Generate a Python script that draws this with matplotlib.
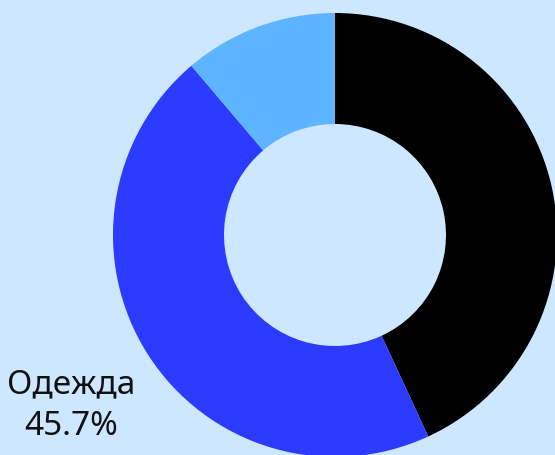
import numpy as np
import matplotlib.pyplot as plt

plt.rcParams['font.family'] = ['Noto Sans', 'DejaVu Sans']

# Segments, clockwise from 12 o'clock
categories = ['', 'Одежда', '']
shares = [43.1, 45.7, 11.2]
colors = ['#000000', '#2B3BFF', '#5DB5FF']
bg = '#CCE7FF'

fig = plt.figure(figsize=(5.55, 4.55), dpi=100, facecolor=bg)
ax = fig.add_axes([0, 0, 1, 1])
ax.set_facecolor(bg)

ax.pie(shares, colors=colors, startangle=90, counterclock=False,
       radius=1.0, wedgeprops=dict(width=0.5, linewidth=0))

# label for the visible slice only (others fall outside the frame)
total = sum(shares)
start = 0.0
for name, val in zip(categories, shares):
    mid = start + val / 2
    start += val
    if not name:
        continue
    theta = np.deg2rad(90 - mid / total * 360)
    r = 1.41
    ax.text(r * np.cos(theta), r * np.sin(theta) - 0.01,
            f'{name}\n{val / total * 100:.1f}%',
            ha='center', va='center', fontsize=24, color='#111111',
            linespacing=1.35)

# center at (335, 235) px, radius 222 px
px = 222.0
ax.set_xlim(-335 / px, (555 - 335) / px)
ax.set_ylim(-(455 - 235) / px, 235 / px)
ax.set_aspect('auto')
ax.axis('off')

fig.savefig('out.png', dpi=100, facecolor=bg)
